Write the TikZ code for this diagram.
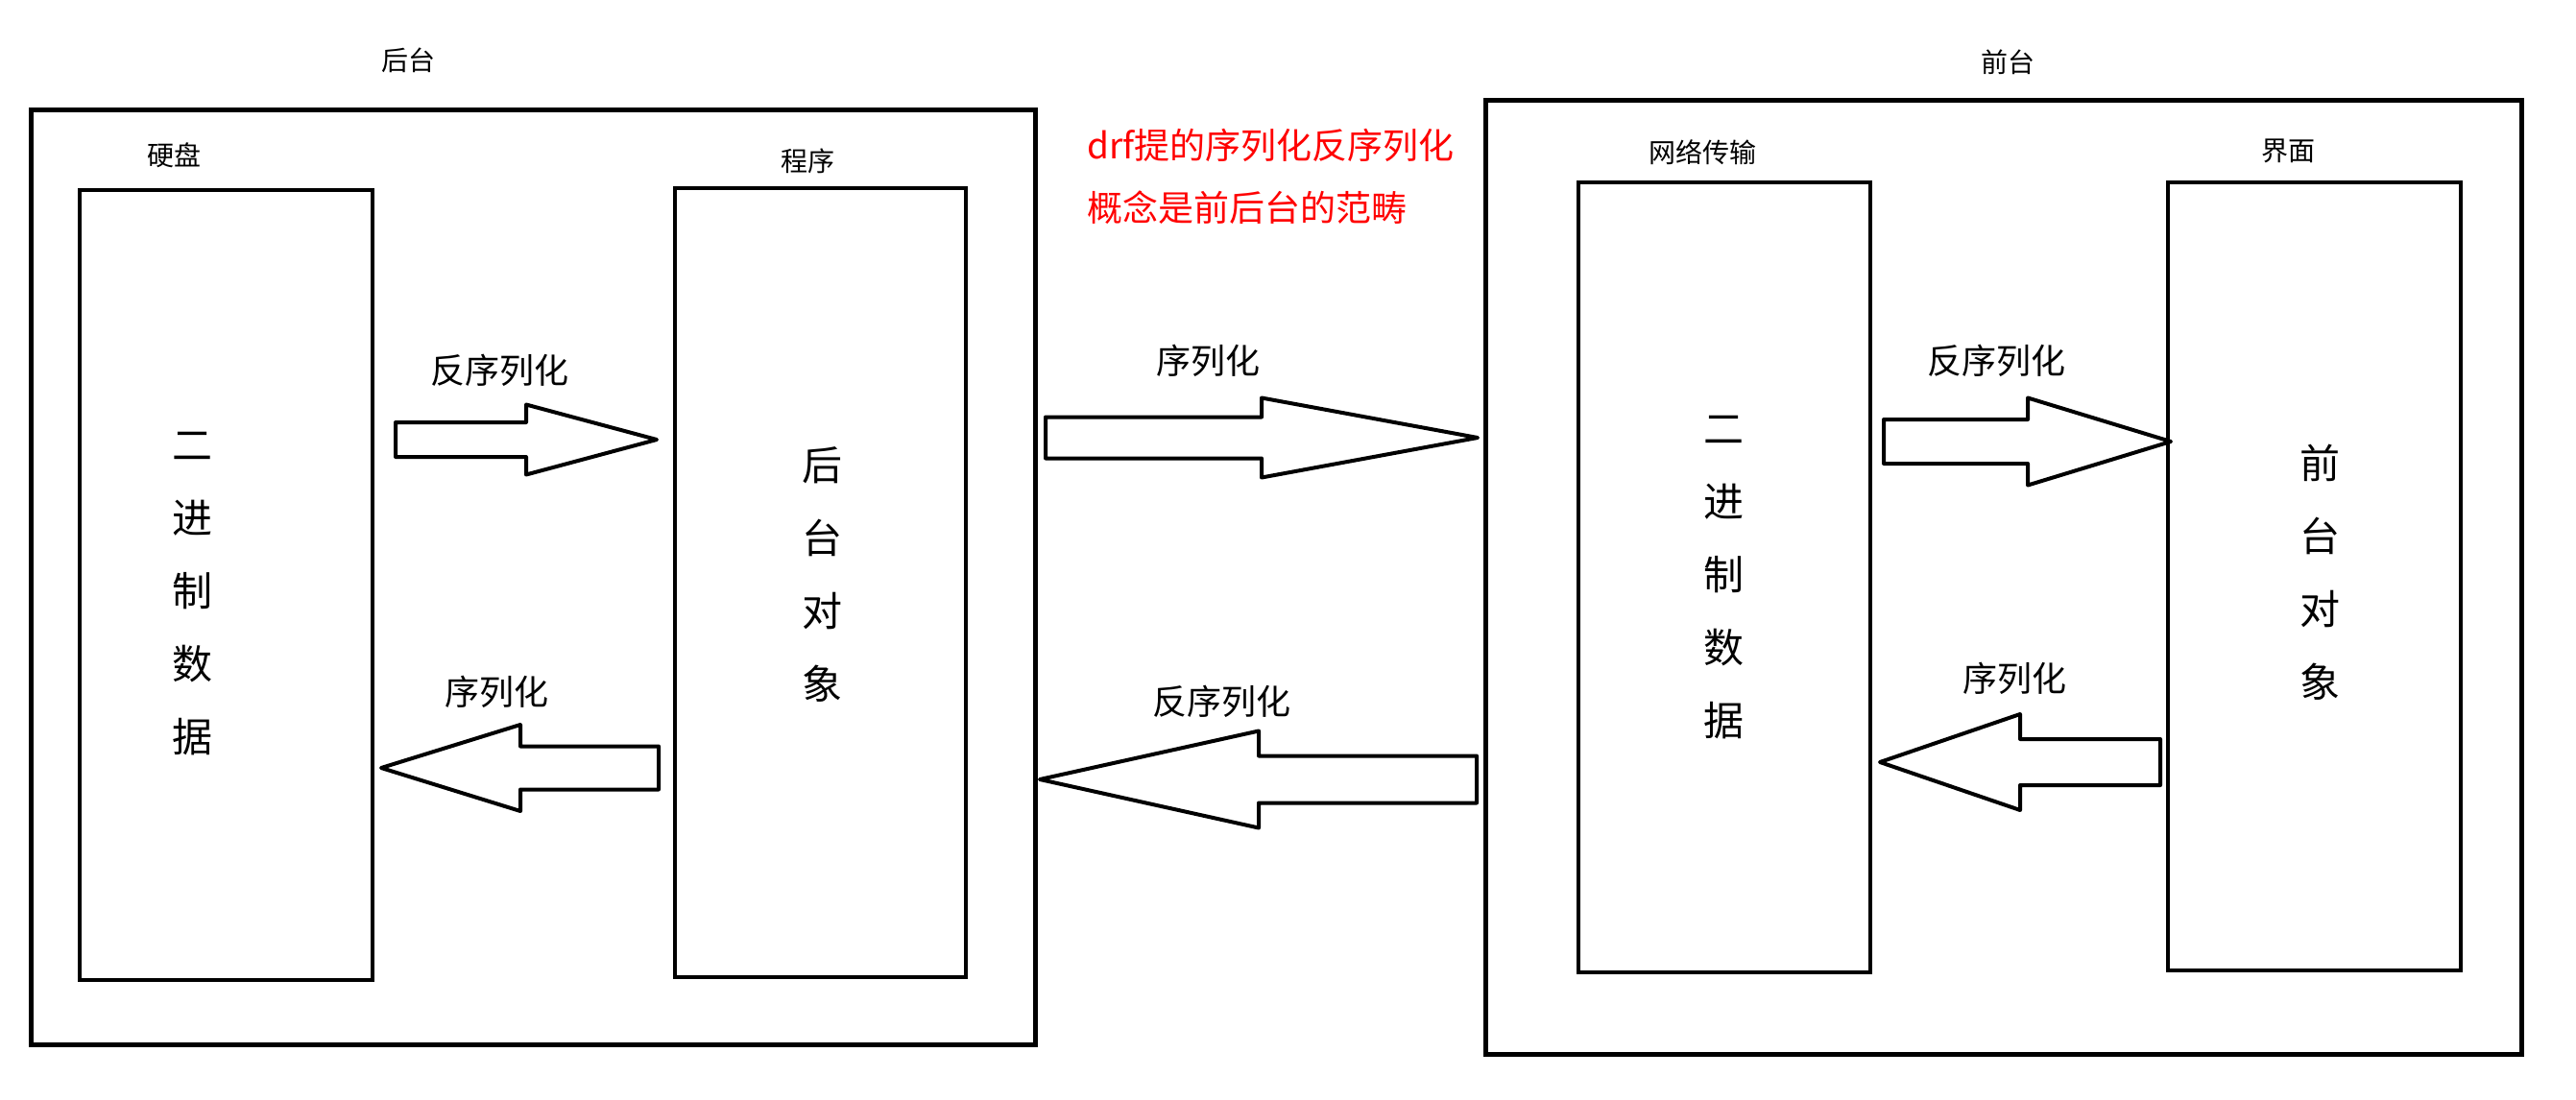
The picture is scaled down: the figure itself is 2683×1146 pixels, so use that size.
\documentclass[tikz,border=0pt]{standalone}
\usepackage{fontspec}
\setmainfont{Noto Sans CJK SC}
\usetikzlibrary{calc}

% block arrow: tail, tip, head base offset from tip, shaft half, head half
\newcommand{\fatarrow}[5]{%
  \draw[fat] ($(#1)+(0,-#4)$) -- ($(#2)+(#3,-#4)$) -- ($(#2)+(#3,-#5)$) -- (#2)
    -- ($(#2)+(#3,#5)$) -- ($(#2)+(#3,#4)$) -- ($(#1)+(0,#4)$) -- cycle;}

\begin{document}
\begin{tikzpicture}[x=0.5pt, y=-0.5pt,
    frame/.style={draw, line width=2.5pt, inner sep=0pt, outer sep=0pt},
    box/.style={draw, line width=2.25pt, inner sep=0pt, outer sep=0pt},
    vtext/.style={align=center, font=\fontsize{21}{38}\selectfont},
    small/.style={font=\fontsize{14}{16}\selectfont},
    lbl/.style={font=\fontsize{18}{20}\selectfont},
    fat/.style={draw, line width=2pt, line join=round}]
  \useasboundingbox (0,0) rectangle (2683,1146);

  % back end
  \node[frame, minimum width=523pt, minimum height=487pt] (back) at (555,601) {};
  \node[small] (backlbl) at (425,63) {后台};
  \node[small] (disklbl) at (181,162) {硬盘};
  \node[small] (proglbl) at (841,168) {程序};
  \node[box, minimum width=152.5pt, minimum height=411.5pt] (disk) at (235.5,609.5) {};
  \node[vtext] (disktxt) at (200,619) {二\\进\\制\\数\\据};
  \node[box, minimum width=151.5pt, minimum height=411pt] (prog) at (854.5,607) {};
  \node[vtext] (progtxt) at (856,598) {后\\台\\对\\象};

  % front end
  \node[frame, minimum width=539.5pt, minimum height=497pt] (front) at (2086.5,601) {};
  \node[small] (frontlbl) at (2091,65) {前台};
  \node[small] (netlbl) at (1773,159) {网络传输};
  \node[small] (uilbl) at (2383,157) {界面};
  \node[box, minimum width=152pt, minimum height=411.5pt] (net) at (1796,601.5) {};
  \node[vtext] (nettxt) at (1795,602) {二\\进\\制\\数\\据};
  \node[box, minimum width=152.5pt, minimum height=410.5pt] (ui) at (2410.5,600.5) {};
  \node[vtext] (uitxt) at (2416,596) {前\\台\\对\\象};

  \node[text=red, align=left, anchor=west, inner sep=0pt,
    font=\fontsize{18.5}{32.5}\selectfont] (note) at (1132,183.5)
    {drf提的序列化反序列化\\概念是前后台的范畴};

  % arrows
  \coordinate (a1s) at (412,458);  \coordinate (a1e) at (684,458);
  \coordinate (a2s) at (686,800);  \coordinate (a2e) at (397,800);
  \coordinate (a3s) at (1089,456); \coordinate (a3e) at (1539,456);
  \coordinate (a4s) at (1538,812); \coordinate (a4e) at (1083,812);
  \coordinate (a5s) at (1962,460); \coordinate (a5e) at (2261,460);
  \coordinate (a6s) at (2250,794); \coordinate (a6e) at (1958,794);

  \fatarrow{a1s}{a1e}{-136}{18}{36.5}
  \fatarrow{a2s}{a2e}{145}{22.5}{45}
  \fatarrow{a3s}{a3e}{-225}{21.5}{41.5}
  \fatarrow{a4s}{a4e}{228}{24.5}{50.5}
  \fatarrow{a5s}{a5e}{-149}{23}{45.5}
  \fatarrow{a6s}{a6e}{146}{24}{50}

  \node[lbl] (l1) at (520,386) {反序列化};
  \node[lbl] (l2) at (517,721) {序列化};
  \node[lbl] (l3) at (1258,376) {序列化};
  \node[lbl] (l4) at (1272,731) {反序列化};
  \node[lbl] (l5) at (2079,376) {反序列化};
  \node[lbl] (l6) at (2098,707) {序列化};
\end{tikzpicture}
\end{document}
